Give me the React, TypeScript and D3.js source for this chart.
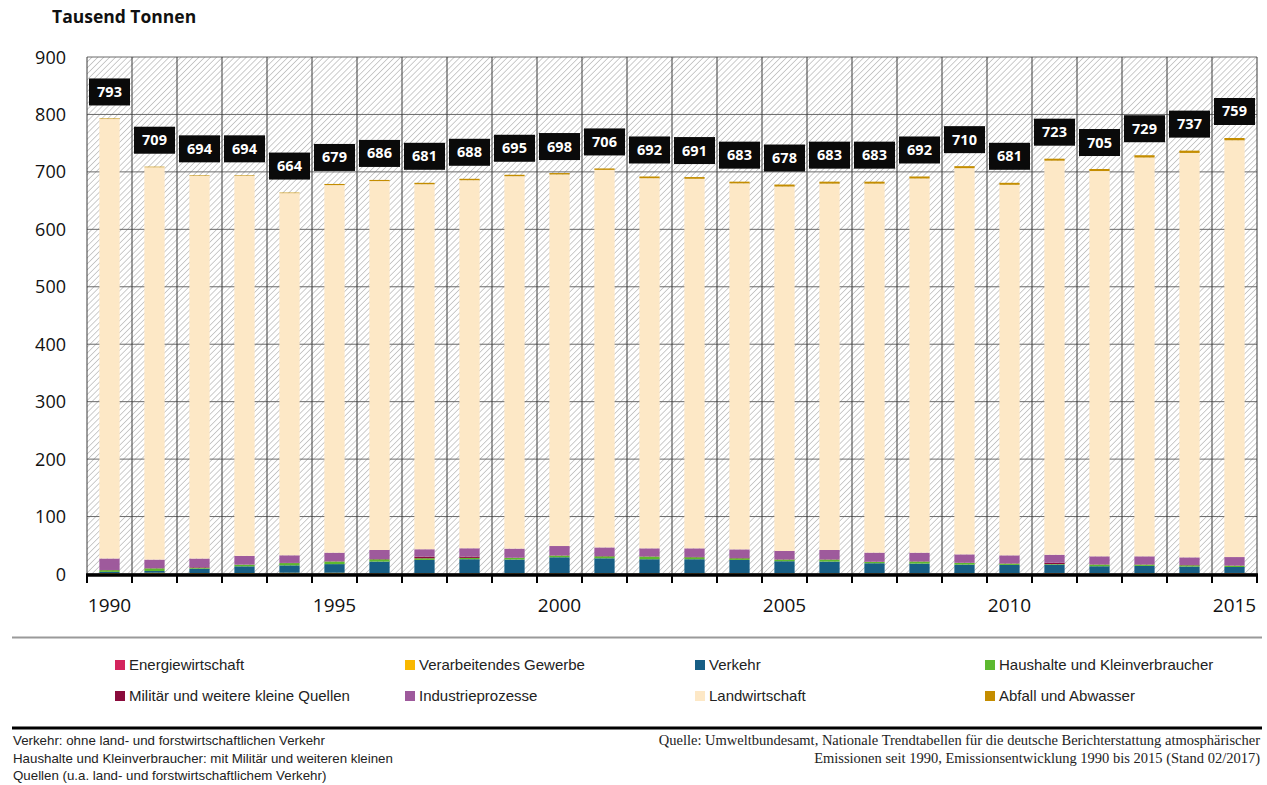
import React from "react";
import * as d3 from "d3";

// NH3-Emissionen nach Quellkategorien, Tausend Tonnen
const years = [
  1990, 1991, 1992, 1993, 1994, 1995, 1996, 1997, 1998, 1999, 2000, 2001, 2002,
  2003, 2004, 2005, 2006, 2007, 2008, 2009, 2010, 2011, 2012, 2013, 2014, 2015,
];
const totals = [
  793, 709, 694, 694, 664, 679, 686, 681, 688, 695, 698, 706, 692, 691, 683, 678,
  683, 683, 692, 710, 681, 723, 705, 729, 737, 759,
];
const energie = [
  0.5, 0.5, 0.5, 0.5, 0.5, 0.5, 0.5, 0.5, 0.5, 0.5, 0.5, 0.5, 0.5, 0.5, 0.5, 0.5,
  0.5, 0.5, 0.5, 0.5, 0.5, 1, 0.5, 0.5, 0.5, 1,
];
const gewerbe = [
  1.2, 1.7, 1.2, 1.2, 1.7, 1.7, 0.8, 0.8, 0.8, 0.8, 0.8, 0.8, 0.8, 0.8, 0.8, 0.8,
  0.8, 0.8, 0.8, 0.8, 0.8, 0.8, 0.8, 0.8, 0.8, 0.8,
];
const verkehr = [
  2, 3, 7.5, 11.6, 12.8, 15, 20.3, 23.2, 24.4, 23.8, 27.8, 26, 24.4, 24.4, 23.2,
  20.9, 20.3, 17.4, 16.8, 15, 14.5, 14.5, 12.2, 12.8, 11.6, 10.4,
];
const haushalte = [
  3, 4.6, 1.7, 2.9, 4, 4.6, 4, 2.9, 2.3, 2.9, 2.9, 3.5, 4.6, 3.5, 2.9, 2.9, 3.5,
  2.3, 3.5, 2.9, 2.3, 1, 2.9, 2.3, 2.3, 2.3,
];
const militaer = [
  0.3, 0.3, 1, 0.3, 0.3, 0.3, 0.5, 2.9, 2.3, 0.5, 0.5, 0.5, 0.5, 0.5, 0.5, 0.5,
  0.5, 0.5, 0.5, 0.5, 0.5, 2.3, 0.5, 0.5, 0.5, 0.5,
];
const industrie = [
  20, 15, 15, 15, 13.3, 15, 15.7, 12.8, 14.5, 15.7, 16.2, 15, 13.9, 15, 15, 14.5,
  16.2, 15.7, 15, 14.5, 13.9, 13.9, 13.9, 13.9, 13.3, 14.5,
];
const landwirtschaft = [
  765, 683, 666, 661.5, 630.4, 639.9, 642.2, 635.4, 640.7, 648.3, 646.8, 657.2,
  644.3, 643.3, 637.1, 634.4, 637.7, 642.3, 651.4, 672.3, 645, 686, 670.7, 694.2,
  704, 725.5,
];
const abfall = [
  1, 1, 1, 1, 1, 2, 2, 2.5, 2.5, 2.5, 2.5, 2.5, 3, 3, 3, 3.5, 3.5, 3.5, 3.5, 3.5,
  3.5, 3.5, 3.5, 4, 4, 4,
];

const seriesNames = [
  "Energiewirtschaft",
  "Verarbeitendes Gewerbe",
  "Verkehr",
  "Haushalte und Kleinverbraucher",
  "Militär und weitere kleine Quellen",
  "Industrieprozesse",
  "Landwirtschaft",
  "Abfall und Abwasser",
];
const seriesValues = [energie, gewerbe, verkehr, haushalte, militaer, industrie, landwirtschaft, abfall];
const seriesColors = ["#d4245d", "#f9b800", "#175e85", "#5db92f", "#8a0b3c", "#9e5a9c", "#fde8c6", "#c48d00"];

const yTicks = [0, 100, 200, 300, 400, 500, 600, 700, 800, 900];
const yearLabels = [1990, 1995, 2000, 2005, 2010, 2015];

const footLeft = [
  "Verkehr: ohne land- und forstwirtschaftlichen Verkehr",
  "Haushalte und Kleinverbraucher: mit Militär und weiteren kleinen",
  "Quellen (u.a. land- und forstwirtschaftlichem Verkehr)",
];
const footRight = [
  "Quelle: Umweltbundesamt, Nationale Trendtabellen für die deutsche Berichterstattung atmosphärischer",
  "Emissionen seit 1990, Emissionsentwicklung 1990 bis 2015 (Stand 02/2017)",
];

export default function App() {
  const width = 1267;
  const height = 785;
  const sans = "'Open Sans', 'Liberation Sans', sans-serif";
  const plain = "'Liberation Sans', Arial, sans-serif";

  const x = d3.scaleBand<number>().domain(years).range([87, 1257]).padding(0);
  const y = d3.scaleLinear().domain([0, 900]).range([574, 57]);
  const barW = x.bandwidth() * 0.45;
  const barOff = (x.bandwidth() - barW) / 2;

  const rows = years.map((yr, i) => {
    const r: Record<string, number> = { year: yr };
    seriesNames.forEach((n, k) => (r[n] = seriesValues[k][i]));
    return r;
  });
  const stacked = d3.stack<Record<string, number>>().keys(seriesNames)(rows);

  const [x0, x1] = x.range();
  const boundaries = years.map((yr) => x(yr)!).concat([x1]);

  const legendCols = [115, 405, 695, 985];
  const legendRows = [665, 696];

  return (
    <svg
      width={width}
      height={height}
      style={{ position: "absolute", left: 0, top: 0, background: "#fff" }}
    >
      <defs>
        <pattern
          id="hatch"
          patternUnits="userSpaceOnUse"
          width="4.2"
          height="4.2"
          patternTransform="rotate(45)"
        >
          <rect width="4.2" height="4.2" fill="#fff" />
          <line x1="0" y1="0" x2="0" y2="4.2" stroke="#bcbcbc" strokeWidth="1.5" />
        </pattern>
      </defs>

      <text x={52} y={23} fontFamily={sans} fontWeight="bold" fontSize="17.5" fill="#111">
        Tausend Tonnen
      </text>

      {/* plot background */}
      <rect x={x0} y={y(900)} width={x1 - x0} height={y(0) - y(900)} fill="url(#hatch)" />

      {/* grid */}
      <g>
        {yTicks.map((t) => (
          <line key={t} x1={x0} x2={x1} y1={y(t)} y2={y(t)} stroke="#6a6a6a" strokeWidth="1" />
        ))}
        {boundaries.map((bx, i) => (
          <line key={i} x1={bx} x2={bx} y1={y(900)} y2={y(0)} stroke="#3a3a3a" strokeWidth="1" />
        ))}
      </g>

      {/* stacked bars */}
      {stacked.map((s, k) => (
        <g key={s.key} fill={seriesColors[k]}>
          {s.map((d, i) => (
            <rect
              key={i}
              x={x(years[i])! + barOff}
              y={y(d[1])}
              width={barW}
              height={Math.max(0, y(d[0]) - y(d[1]))}
            />
          ))}
        </g>
      ))}

      {/* value labels */}
      {totals.map((t, i) => {
        const cx = x(years[i])! + x.bandwidth() / 2;
        const bottom = y(t) - 13;
        return (
          <g key={i}>
            <rect x={cx - 20.5} y={bottom - 27} width={41} height={27} fill="#0a0a0a" />
            <text
              x={cx}
              y={bottom - 8.5}
              textAnchor="middle"
              fontFamily={sans}
              fontWeight="bold"
              fontSize="14.5"
              fill="#fff"
            >
              {t}
            </text>
          </g>
        );
      })}

      {/* y axis labels */}
      {yTicks.map((t) => (
        <text
          key={t}
          x={66}
          y={y(t) + 6.5}
          textAnchor="end"
          fontFamily={sans}
          fontSize="18"
          fill="#111"
        >
          {t}
        </text>
      ))}

      {/* x axis */}
      <line x1={x0 - 1} x2={x1 + 1} y1={y(0) + 1} y2={y(0) + 1} stroke="#000" strokeWidth="3.5" />
      {boundaries.map((bx, i) => (
        <line key={i} x1={bx} x2={bx} y1={y(0)} y2={y(0) + 9} stroke="#000" strokeWidth="2" />
      ))}
      {yearLabels.map((yr) => (
        <text
          key={yr}
          x={x(yr)! + x.bandwidth() / 2}
          y={612}
          textAnchor="middle"
          fontFamily={sans}
          fontSize="19"
          fill="#111"
        >
          {yr}
        </text>
      ))}

      <line x1={12} x2={1262} y1={637.5} y2={637.5} stroke="#9a9a9a" strokeWidth="2" />

      {/* legend, two rows of four */}
      {seriesNames.map((name, j) => {
        const lx = legendCols[j % 4];
        const ly = legendRows[Math.floor(j / 4)];
        return (
          <g key={name}>
            <rect x={lx} y={ly - 5} width={10} height={10} fill={seriesColors[j]} />
            <text x={lx + 14} y={ly + 5} fontFamily={plain} fontSize="15" fill="#222">
              {name}
            </text>
          </g>
        );
      })}

      <line x1={12} x2={1262} y1={728} y2={728} stroke="#000" strokeWidth="3" />

      {footLeft.map((s, i) => (
        <text key={i} x={13} y={745 + i * 17.5} fontFamily={plain} fontSize="13.3" fill="#222">
          {s}
        </text>
      ))}
      {footRight.map((s, i) => (
        <text
          key={i}
          x={1260}
          y={745 + i * 17.5}
          textAnchor="end"
          fontFamily="'Liberation Serif', 'DejaVu Serif', serif"
          fontSize="14.5"
          fill="#222"
        >
          {s}
        </text>
      ))}
    </svg>
  );
}
